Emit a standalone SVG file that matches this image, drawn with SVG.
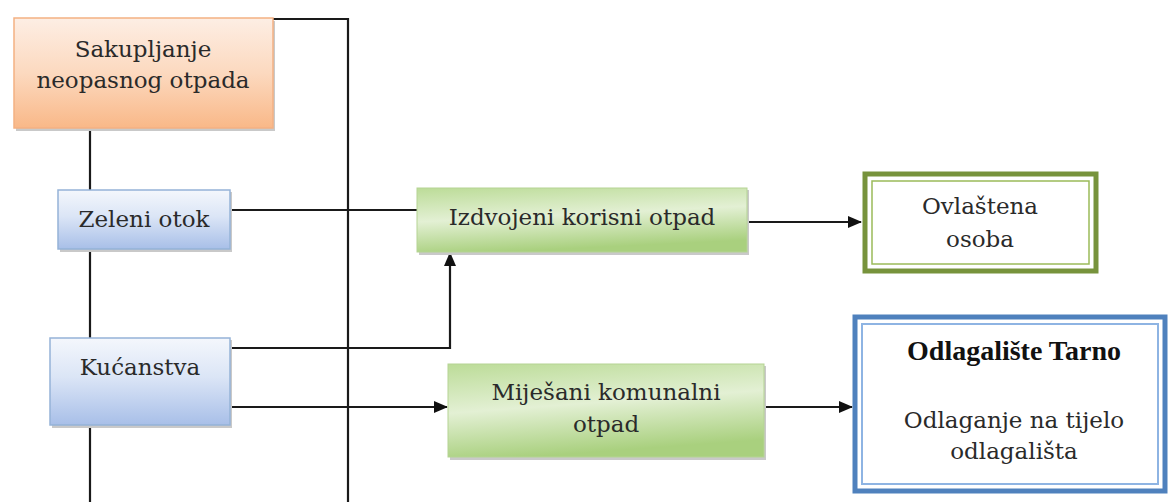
<svg xmlns="http://www.w3.org/2000/svg" width="1168" height="502" viewBox="0 0 1168 502">
<defs>
<linearGradient id="gOrange" x1="0" y1="0" x2="0" y2="1">
<stop offset="0" stop-color="#fdeee4"/>
<stop offset="0.5" stop-color="#fcd9bf"/>
<stop offset="1" stop-color="#f9b888"/>
</linearGradient>
<linearGradient id="gBlue" x1="0" y1="0" x2="0" y2="1">
<stop offset="0" stop-color="#f4f7fc"/>
<stop offset="0.45" stop-color="#dbe5f6"/>
<stop offset="1" stop-color="#a8bfe8"/>
</linearGradient>
<linearGradient id="gGreen" x1="0" y1="0" x2="0.25" y2="1">
<stop offset="0" stop-color="#bcdc98"/>
<stop offset="0.5" stop-color="#e3f0d4"/>
<stop offset="1" stop-color="#a9d07e"/>
</linearGradient>
<marker id="arrow" markerWidth="14" markerHeight="12" refX="13" refY="6" orient="auto" markerUnits="userSpaceOnUse">
<path d="M0,0 L14,6 L0,12 Z" fill="#111"/>
</marker>
<style>
text{font-family:"DejaVu Serif","Liberation Serif",serif;font-size:23px;fill:#2a2a2a;text-anchor:middle}
.b{font-family:"Liberation Serif","DejaVu Serif",serif;font-size:28px;font-weight:bold;fill:#111}
.sh{fill:#c9c9c9}
.conn{stroke:#1a1a1a;stroke-width:2.2;fill:none}
</style>
</defs>

<g id="connectors">
<polyline class="conn" points="273,19 348,19 348,502"/>
<line class="conn" x1="90" y1="128" x2="90" y2="190"/>
<line class="conn" x1="90" y1="250" x2="90" y2="338"/>
<line class="conn" x1="90" y1="425" x2="90" y2="502"/>
<line class="conn" x1="230" y1="210" x2="417" y2="210"/>
<line class="conn" x1="747" y1="222" x2="861" y2="222" marker-end="url(#arrow)"/>
<polyline class="conn" points="230,348 450,348 450,253" marker-end="url(#arrow)"/>
<line class="conn" x1="230" y1="407" x2="447" y2="407" marker-end="url(#arrow)"/>
<line class="conn" x1="764" y1="407" x2="852" y2="407" marker-end="url(#arrow)"/>
</g>

<g id="sakupljanje">
<rect class="sh" x="16" y="21" width="259" height="110"/>
<rect x="14" y="18" width="259" height="110" fill="url(#gOrange)" stroke="#f4b183" stroke-width="1.5"/>
<text x="143" y="57">Sakupljanje</text>
<text x="143" y="88">neopasnog otpada</text>
</g>

<g id="zeleni-otok">
<rect class="sh" x="60" y="192" width="172" height="60"/>
<rect x="58" y="190" width="172" height="59" fill="url(#gBlue)" stroke="#95b3d7" stroke-width="1.5"/>
<text x="144" y="227">Zeleni otok</text>
</g>

<g id="kucanstva">
<rect class="sh" x="52" y="340" width="180" height="88"/>
<rect x="50" y="338" width="180" height="87" fill="url(#gBlue)" stroke="#95b3d7" stroke-width="1.5"/>
<text x="140" y="375">Kućanstva</text>
</g>

<g id="izdvojeni">
<rect class="sh" x="419" y="190" width="330" height="65"/>
<rect x="417" y="188" width="330" height="64" fill="url(#gGreen)" stroke="#b5d494" stroke-width="1"/>
<text x="582" y="225">Izdvojeni korisni otpad</text>
</g>

<g id="mijesani">
<rect class="sh" x="450" y="366" width="316" height="94"/>
<rect x="448" y="364" width="316" height="93" fill="url(#gGreen)" stroke="#b5d494" stroke-width="1"/>
<text x="606" y="400">Miješani komunalni</text>
<text x="606" y="432">otpad</text>
</g>

<g id="ovlastena">
<rect x="865" y="174" width="231" height="97" fill="#fff" stroke="#77933c" stroke-width="5"/>
<rect x="872" y="181" width="217" height="83" fill="none" stroke="#9bbb59" stroke-width="1.5"/>
<text x="980" y="214">Ovlaštena</text>
<text x="980" y="247">osoba</text>
</g>

<g id="odlagaliste">
<rect x="855" y="317" width="310" height="174" fill="#fff" stroke="#4f81bd" stroke-width="5"/>
<rect x="862" y="324" width="296" height="160" fill="none" stroke="#8eb4e3" stroke-width="2"/>
<text class="b" x="1014" y="360">Odlagalište Tarno</text>
<text x="1014" y="428">Odlaganje na tijelo</text>
<text x="1014" y="459">odlagališta</text>
</g>
</svg>
